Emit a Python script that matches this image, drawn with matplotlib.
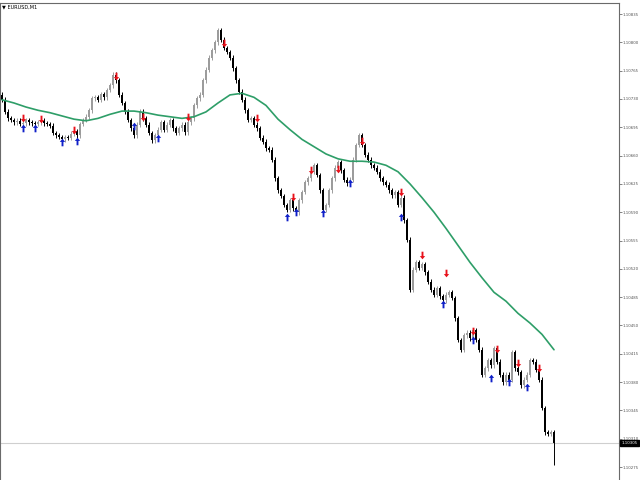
import matplotlib
matplotlib.use('Agg')
import matplotlib.pyplot as plt
import matplotlib.transforms as mtransforms
from matplotlib.path import Path

# ---------------- data ----------------
symbol_label = "\u25bc EURUSD,M1"

first_open = 1.10735
closes = [
    1.10729, 1.10714, 1.10706, 1.10704, 1.10701, 1.10703, 1.10699, 1.10700, 1.10704, 1.10701,
    1.10700, 1.10699, 1.10701, 1.10703, 1.10700, 1.10699, 1.10697, 1.10688, 1.10685, 1.10683,
    1.10680, 1.10683, 1.10682, 1.10687, 1.10690, 1.10685, 1.10699, 1.10704, 1.10708, 1.10716,
    1.10731, 1.10732, 1.10729, 1.10736, 1.10732, 1.10741, 1.10747, 1.10760, 1.10753, 1.10735,
    1.10725, 1.10714, 1.10704, 1.10694, 1.10685, 1.10698, 1.10714, 1.10706, 1.10698, 1.10688,
    1.10679, 1.10685, 1.10692, 1.10701, 1.10692, 1.10698, 1.10704, 1.10694, 1.10688, 1.10694,
    1.10698, 1.10689, 1.10701, 1.10706, 1.10722, 1.10731, 1.10735, 1.10753, 1.10766, 1.10781,
    1.10790, 1.10800, 1.10815, 1.10803, 1.10793, 1.10788, 1.10781, 1.10768, 1.10753, 1.10739,
    1.10729, 1.10716, 1.10704, 1.10706, 1.10698, 1.10694, 1.10682, 1.10677, 1.10669, 1.10667,
    1.10655, 1.10632, 1.10617, 1.10610, 1.10599, 1.10593, 1.10605, 1.10595, 1.10590, 1.10605,
    1.10615, 1.10627, 1.10632, 1.10640, 1.10648, 1.10636, 1.10617, 1.10593, 1.10599, 1.10617,
    1.10632, 1.10645, 1.10652, 1.10642, 1.10630, 1.10626, 1.10630, 1.10655, 1.10673, 1.10685,
    1.10673, 1.10661, 1.10655, 1.10648, 1.10645, 1.10640, 1.10632, 1.10627, 1.10624, 1.10617,
    1.10611, 1.10615, 1.10599, 1.10608, 1.10580, 1.10556, 1.10494, 1.10519, 1.10528, 1.10521,
    1.10526, 1.10516, 1.10504, 1.10494, 1.10488, 1.10496, 1.10486, 1.10481, 1.10488, 1.10491,
    1.10484, 1.10459, 1.10432, 1.10420, 1.10438, 1.10441, 1.10434, 1.10444, 1.10432, 1.10420,
    1.10389, 1.10397, 1.10407, 1.10401, 1.10422, 1.10405, 1.10389, 1.10380, 1.10389, 1.10383,
    1.10417, 1.10397, 1.10392, 1.10376, 1.10383, 1.10389, 1.10407, 1.10405, 1.10395, 1.10383,
    1.10348, 1.10318, 1.10316, 1.10318, 1.10305,
]
last_bar_low = 1.10278

# moving average, read at every 4th bar
ma_step = 4
ma_values = [
    1.10729, 1.10725, 1.10720, 1.10716, 1.10713, 1.10709, 1.10705, 1.10703, 1.10706, 1.10711,
    1.10715, 1.10715, 1.10713, 1.10710, 1.10708, 1.10706, 1.10708, 1.10714, 1.10725, 1.10735,
    1.10737, 1.10732, 1.10722, 1.10705, 1.10692, 1.10680, 1.10671, 1.10662, 1.10656, 1.10653,
    1.10653, 1.10652, 1.10648, 1.10640, 1.10625, 1.10608, 1.10590, 1.10570, 1.10549, 1.10528,
    1.10509, 1.10491, 1.10480, 1.10465, 1.10453, 1.10439, 1.10420,
]

sell_idx = [7, 13, 24, 38, 47, 62, 74, 85, 97, 103, 112, 120, 133, 140, 148, 157, 165, 172, 179]
sell_price = [1.10706, 1.10705, 1.10692, 1.10758, 1.10708, 1.10708, 1.10799, 1.10706, 1.10609,
              1.10642, 1.10643, 1.10678, 1.10615, 1.10537, 1.10515, 1.10443, 1.10421, 1.10404,
              1.10397]
buy_idx = [7, 11, 20, 25, 44, 52, 95, 98, 107, 116, 133, 147, 157, 163, 169, 175]
buy_price = [1.10694, 1.10694, 1.10677, 1.10678, 1.10697, 1.10682, 1.10584, 1.10590, 1.10589,
             1.10626, 1.10584, 1.10477, 1.10432, 1.10385, 1.10380, 1.10374]

current_price = 1.10305
current_label = "1.10305"
tick_values = [1.10835, 1.10800, 1.10765, 1.10730, 1.10695, 1.10660, 1.10625, 1.10590,
               1.10555, 1.10520, 1.10485, 1.10450, 1.10415, 1.10380, 1.10345, 1.10310, 1.10275]
tick_labels = ["1.10835", "1.10800", "1.10765", "1.10730", "1.10695", "1.10660", "1.10625",
               "1.10590", "1.10555", "1.10520", "1.10485", "1.10450", "1.10415", "1.10380",
               "1.10345", "1.10310", "1.10275"]

# ---------------- figure ----------------
fig = plt.figure(figsize=(6.4, 4.8), dpi=100)
fig.patch.set_facecolor('white')
ax = fig.add_axes([0, 0, 619 / 640, 477 / 480])
ax.set_facecolor('white')

n = len(closes)
opens = [first_open] + closes[:-1]
wick = 0.00003
highs = [max(o, c) + wick for o, c in zip(opens, closes)]
lows = [min(o, c) - wick for o, c in zip(opens, closes)]
lows[-1] = last_bar_low

ax.axhline(current_price, color='#cfcfcf', lw=0.8, zorder=0)

for i in range(n):
    o, c = opens[i], closes[i]
    bull = c >= o
    col = '#9c9c9c' if bull else '#000000'
    ax.vlines(i, lows[i], highs[i], color=col, lw=0.7, zorder=2)
    ax.bar(i, abs(c - o) if abs(c - o) > 1e-6 else 0.000004, bottom=min(o, c),
           width=0.6, color=col, linewidth=0, zorder=3)

ma_x = [k * ma_step for k in range(len(ma_values))]
ax.plot(ma_x, ma_values, color='#2e9e68', lw=1.2, zorder=4, solid_capstyle='round')

up = Path([(0, 1), (-0.7, 0.15), (-0.25, 0.15), (-0.25, -1), (0.25, -1), (0.25, 0.15),
           (0.7, 0.15), (0, 1)], closed=True)
down = Path([(0, -1), (-0.7, -0.15), (-0.25, -0.15), (-0.25, 1), (0.25, 1), (0.25, -0.15),
             (0.7, -0.15), (0, -1)], closed=True)
ax.scatter(sell_idx, sell_price, marker=down, s=30, color='#e8101a', linewidths=0, zorder=5)
ax.scatter(buy_idx, buy_price, marker=up, s=30, color='#1020c8', linewidths=0, zorder=5)

ax.set_xlim(-2 / 3, 619 / 3 - 2 / 3)
ax.set_ylim(1.10259, 1.108486)
ax.set_xticks([])
ax.yaxis.tick_right()
ax.set_yticks(tick_values)
ax.set_yticklabels(tick_labels)
ax.tick_params(axis='y', length=2, width=0.5, pad=0.8, labelsize=2.8, colors='#505050',
               direction='out')
for s in ['left', 'top', 'right']:
    ax.spines[s].set_color('#6a6a6a')
    ax.spines[s].set_linewidth(0.8)
ax.spines['bottom'].set_visible(False)

trans = mtransforms.blended_transform_factory(ax.transAxes, ax.transData)
ax.text(1.0 + 2.5 / 619, current_price, current_label, transform=trans, ha='left', va='center',
        fontsize=2.8, color='white', zorder=10,
        bbox=dict(boxstyle='square,pad=0.3', facecolor='black', edgecolor='black'))

fig.text(2 / 640, 1 - 7 / 480, symbol_label, fontsize=3.6, color='black', ha='left',
         va='center')

fig.savefig('out.png', dpi=100, facecolor='white')
